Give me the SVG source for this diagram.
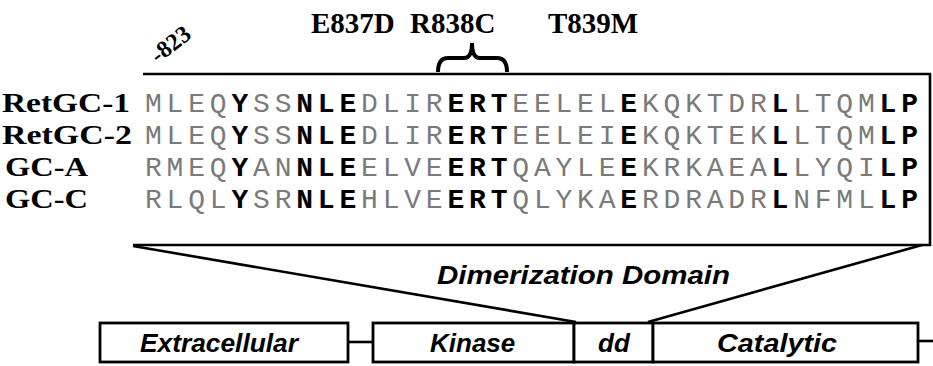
<svg xmlns="http://www.w3.org/2000/svg" width="933" height="366" viewBox="0 0 933 366">
<style>
.lbl{font-family:"Liberation Serif","Times New Roman",serif;font-weight:bold;fill:#000}
.mut{font-size:29px}
.row{font-size:28px}
.seq{font-family:"Liberation Mono","Courier New",monospace;font-size:28px;letter-spacing:4.8px;fill:#7a7a7a}
.b{font-weight:bold;fill:#000}
.dom{font-family:"Liberation Sans",Arial,sans-serif;font-weight:bold;font-style:italic;font-size:26px;fill:#000}
.ln{fill:none;stroke:#000;stroke-width:2.6}
.box{fill:#fff;stroke:#000;stroke-width:2.8}
</style>
<g id="mutations">
<text class="lbl mut" x="311" y="33">E837D</text>
<text class="lbl mut" x="410" y="33">R838C</text>
<text class="lbl mut" x="548" y="33">T839M</text>
<path id="brace" d="M438,72 Q438,58 448,58 H464 Q472,58 472,43 Q472,58 480,58 H497 Q507,58 507,72" fill="none" stroke="#000" stroke-width="4"/>
<text class="lbl" font-size="24" transform="translate(158,64) rotate(-38)">-823</text>
</g>
<g id="alignment">
<path class="ln" d="M143,74 H930 V245 H133"/>
<text class="lbl row" x="2" y="112" textLength="128" lengthAdjust="spacingAndGlyphs">RetGC-1</text>
<text class="lbl row" x="2" y="144" textLength="130" lengthAdjust="spacingAndGlyphs">RetGC-2</text>
<text class="lbl row" x="5" y="176" textLength="83" lengthAdjust="spacingAndGlyphs">GC-A</text>
<text class="lbl row" x="5" y="208" textLength="83" lengthAdjust="spacingAndGlyphs">GC-C</text>
<text class="seq" x="145" y="112">MLEQ<tspan class="b">Y</tspan>SS<tspan class="b">NLE</tspan>DLIR<tspan class="b">ERT</tspan>EELEL<tspan class="b">E</tspan>KQKTDR<tspan class="b">L</tspan>LTQM<tspan class="b">LP</tspan></text>
<text class="seq" x="145" y="144">MLEQ<tspan class="b">Y</tspan>SS<tspan class="b">NLE</tspan>DLIR<tspan class="b">ERT</tspan>EELEI<tspan class="b">E</tspan>KQKTEK<tspan class="b">L</tspan>LTQM<tspan class="b">LP</tspan></text>
<text class="seq" x="145" y="176">RMEQ<tspan class="b">Y</tspan>AN<tspan class="b">NLE</tspan>ELVE<tspan class="b">ERT</tspan>QAYLE<tspan class="b">E</tspan>KRKAEA<tspan class="b">L</tspan>LYQI<tspan class="b">LP</tspan></text>
<text class="seq" x="145" y="208">RLQL<tspan class="b">Y</tspan>SR<tspan class="b">NLE</tspan>HLVE<tspan class="b">ERT</tspan>QLYKA<tspan class="b">E</tspan>RDRADR<tspan class="b">L</tspan>NFML<tspan class="b">LP</tspan></text>
</g>
<g id="connectors">
<line class="ln" x1="133" y1="246" x2="576" y2="322"/>
<line class="ln" x1="922" y1="245" x2="648" y2="322"/>
<line class="ln" x1="348" y1="342" x2="373" y2="342"/>
<line class="ln" x1="918" y1="341" x2="933" y2="341"/>
</g>
<g id="dimerization-label">
<text class="dom" x="437" y="284" font-size="28" textLength="293" lengthAdjust="spacingAndGlyphs">Dimerization Domain</text>
</g>
<g id="extracellular">
<rect class="box" x="100" y="323" width="248" height="39"/>
<text class="dom" x="140" y="352" textLength="158" lengthAdjust="spacingAndGlyphs">Extracellular</text>
</g>
<g id="kinase">
<rect class="box" x="373" y="323" width="201" height="39"/>
<text class="dom" x="430" y="352">Kinase</text>
</g>
<g id="dd">
<rect class="box" x="574" y="323" width="79" height="39"/>
<text class="dom" x="598" y="352">dd</text>
</g>
<g id="catalytic">
<rect class="box" x="653" y="323" width="265" height="39"/>
<text class="dom" x="717" y="352" textLength="120" lengthAdjust="spacingAndGlyphs">Catalytic</text>
</g>
</svg>
